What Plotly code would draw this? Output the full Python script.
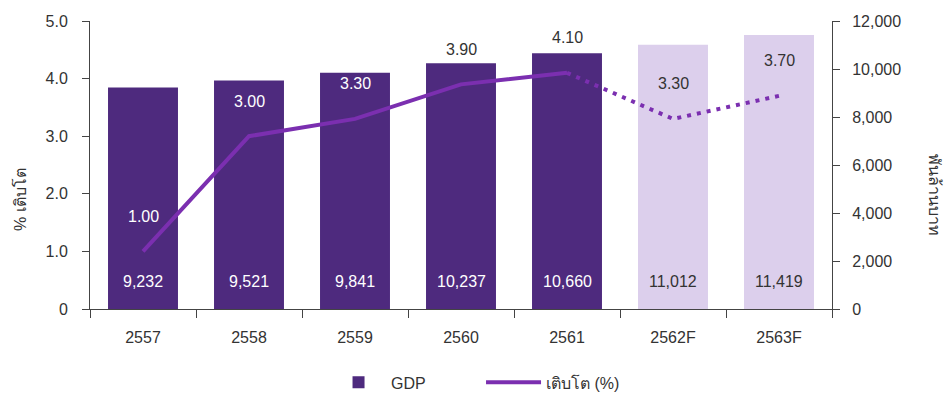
import plotly.graph_objects as go

years = ["2557", "2558", "2559", "2560", "2561", "2562F", "2563F"]
gdp = [9232, 9521, 9841, 10237, 10660, 11012, 11419]
growth = [1.00, 3.00, 3.30, 3.90, 4.10, 3.30, 3.70]
n_actual = 5  # first five are actual, last two forecasts

DARK = "#4E2A7E"
LIGHT = "#DCCFEC"
LINE = "#7B2FB0"
TXT = "#333333"
FONT = "Liberation Sans, Arial, Noto Sans, sans-serif"
FS = 16

bar_colors = [DARK if i < n_actual else LIGHT for i in range(len(years))]
gdp_label_colors = ["white" if i < n_actual else TXT for i in range(len(years))]
pct_label_colors = ["white", "white", "white", TXT, TXT, TXT, TXT]

W, H = 949, 394
L, R, T, B = 90, 117, 21, 85
pw, ph = W - L - R, H - T - B

fig = go.Figure()
fig.add_trace(go.Bar(
    x=years, y=gdp, name="GDP", marker=dict(color=bar_colors, line=dict(width=0)),
    yaxis="y", xaxis="x",
))
fig.add_trace(go.Scatter(
    x=years[:n_actual], y=growth[:n_actual], name="เติบโต (%)", mode="lines",
    line=dict(color=LINE, width=4), yaxis="y2", xaxis="x",
))
fig.add_trace(go.Scatter(
    x=years[n_actual - 1:], y=growth[n_actual - 1:], mode="lines", showlegend=False,
    line=dict(color=LINE, width=4, dash="4px,6px"), yaxis="y2", xaxis="x",
))

annotations = []
for i, v in enumerate(gdp):
    annotations.append(dict(x=i, y=0, xref="x", yref="y", text=f"{v:,}", showarrow=False,
                            yshift=28, font=dict(size=FS, color=gdp_label_colors[i], family=FONT)))
for i, v in enumerate(growth):
    annotations.append(dict(x=i, y=v, xref="x", yref="y2", text=f"{v:.2f}", showarrow=False,
                            yshift=35, font=dict(size=FS, color=pct_label_colors[i], family=FONT)))
annotations.append(dict(x=(20 - L) / pw, y=(H - B - 200) / ph, xref="paper", yref="paper",
                        text="% เติบโต", showarrow=False, textangle=-90,
                        xanchor="center", yanchor="middle",
                        font=dict(size=FS, color=TXT, family=FONT)))
annotations.append(dict(x=(935 - L) / pw, y=(H - B - 195) / ph, xref="paper", yref="paper",
                        text="พันล้านบาท", showarrow=False, textangle=90,
                        xanchor="center", yanchor="middle",
                        font=dict(size=FS, color=TXT, family=FONT)))

fig.update_layout(
    width=W, height=H,
    margin=dict(l=L, r=R, t=T, b=B, autoexpand=False),
    paper_bgcolor="white", plot_bgcolor="white",
    font=dict(family=FONT, size=FS, color=TXT),
    bargap=0.34,
    xaxis=dict(
        type="category", categoryorder="array", categoryarray=years, range=[-0.5, 6.5],
        showgrid=False, showline=True, linecolor="#444", linewidth=1,
        ticks="outside", tickson="boundaries", ticklen=8, tickcolor="#444",
        tickfont=dict(size=FS, color=TXT), tickangle=0, ticklabelstandoff=14,
    ),
    yaxis=dict(
        side="right", range=[0, 12000], tickvals=list(range(0, 12001, 2000)),
        tickformat=",d", showgrid=False, zeroline=False, showline=True, linecolor="#444",
        ticks="outside", ticklen=7, tickcolor="#444", tickfont=dict(size=FS, color=TXT),
        ticklabelstandoff=9,
    ),
    yaxis2=dict(
        overlaying="y", side="left", anchor="x", range=[0, 5], tickvals=[0, 1, 2, 3, 4, 5],
        ticktext=["0", "1.0", "2.0", "3.0", "4.0", "5.0"], showgrid=False, zeroline=False,
        showline=True, linecolor="#444", ticks="outside", ticklen=7, tickcolor="#444",
        tickfont=dict(size=FS, color=TXT), ticklabelstandoff=11,
    ),
    legend=dict(orientation="h", x=0.527, xanchor="center", y=-0.255, yanchor="middle",
                font=dict(size=FS, color=TXT, family=FONT), itemwidth=55,
                entrywidth=85, entrywidthmode="pixels"),
    annotations=annotations,
)

fig.write_html("out.html")
